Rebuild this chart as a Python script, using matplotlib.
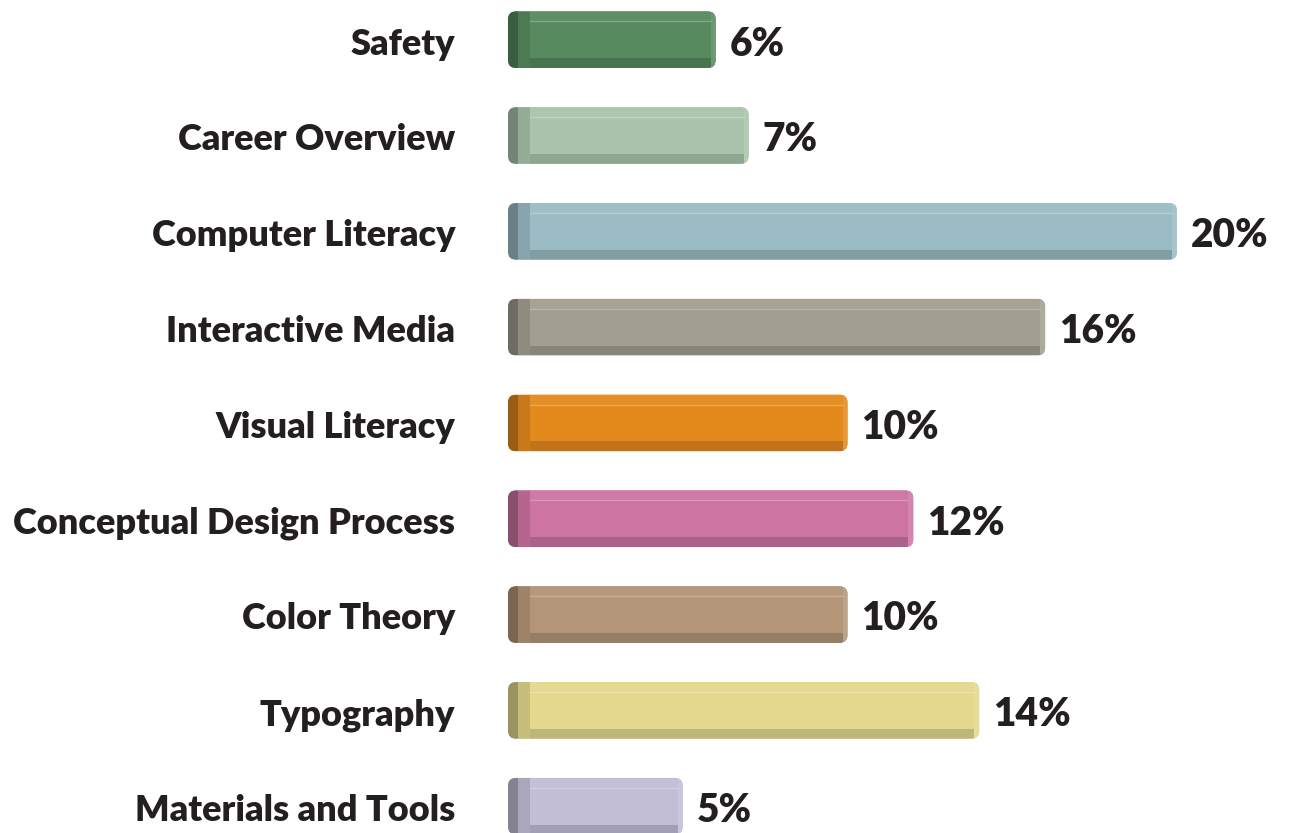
import matplotlib
matplotlib.use("Agg")
import matplotlib.pyplot as plt
from matplotlib.patches import FancyBboxPatch
import matplotlib.colors as mcolors
import numpy as np

categories = ["Safety", "Career Overview", "Computer Literacy", "Interactive Media",
              "Visual Literacy", "Conceptual Design Process", "Color Theory",
              "Typography", "Materials and Tools"]
values = [6, 7, 20, 16, 10, 12, 10, 14, 5]
labels = ["6%", "7%", "20%", "16%", "10%", "12%", "10%", "14%", "5%"]
colors = ["#578A5F", "#A9C4AA", "#9BBCC5", "#A29F90", "#E4891C",
          "#CD74A2", "#B39577", "#E3D88D", "#C1BED6"]

W, H = 1289, 833
fig = plt.figure(figsize=(W / 100, H / 100), dpi=100)
ax = fig.add_axes([0, 0, 1, 1])
ax.set_axis_off()

# pixel scales
x0_px = 518.0
ppu_x = 32.95
ppu_y = 96.5
PX = 1.0 / ppu_x
PY = 1.0 / ppu_y
ax.set_xlim(-x0_px * PX, (W - x0_px) * PX)
top_off = 40.0
ax.set_ylim(8 + (H - 806.0) * PY, -top_off * PY)


def shade(c, f):
    r = np.array(mcolors.to_rgb(c))
    if f < 1:
        return tuple(r * f)
    return tuple(r + (1 - r) * (f - 1))


bar_h = 57 * PY
cap_w = 10 * PX
lbev_w = 12 * PX
rbev_w = 5 * PX
tb_h = 10 * PY

font = "Lato"
fs = 26
fs_val = 28

for i, (cat, v, lab, col) in enumerate(zip(categories, values, labels, colors)):
    y = i
    outer = FancyBboxPatch((-cap_w, y - bar_h / 2), v + cap_w, bar_h,
                           boxstyle="round,pad=0,rounding_size=%f" % (8 * PX),
                           mutation_aspect=(8 * PY) / (8 * PX),
                           facecolor=col, edgecolor="none", zorder=2)
    ax.add_patch(outer)
    parts = []
    # top bevel
    parts += ax.barh(y - bar_h / 2 + tb_h / 2, v - lbev_w - rbev_w, height=tb_h,
                     left=lbev_w, color=shade(col, 1.04), zorder=3)
    # bottom bevel
    parts += ax.barh(y + bar_h / 2 - tb_h / 2, v - lbev_w - rbev_w, height=tb_h,
                     left=lbev_w, color=shade(col, 0.84), zorder=3)
    # left cap
    parts += ax.barh(y, cap_w, height=bar_h, left=-cap_w, color=shade(col, 0.68), zorder=4)
    # left bevel
    parts += ax.barh(y, lbev_w, height=bar_h, left=0, color=shade(col, 0.88), zorder=4)
    # right bevel
    parts += ax.barh(y, rbev_w, height=bar_h, left=v - rbev_w, color=shade(col, 1.12), zorder=4)
    for p in parts:
        p.set_clip_path(outer)
    ln = ax.plot([lbev_w, v - rbev_w], [y - bar_h / 2 + tb_h] * 2,
                 color=shade(col, 1.25), lw=1.0, zorder=5)[0]
    ln.set_clip_path(outer)

    ax.text(-63 * PX, y + 15 * PY, cat, ha="right", va="baseline",
            fontsize=fs, fontweight="heavy", family=font, color="#231F20")
    ax.text(v + 14 * PX, y + 16 * PY, lab, ha="left", va="baseline",
            fontsize=fs_val, fontweight="heavy", family=font, color="#231F20")

fig.savefig("out.png", dpi=100)
